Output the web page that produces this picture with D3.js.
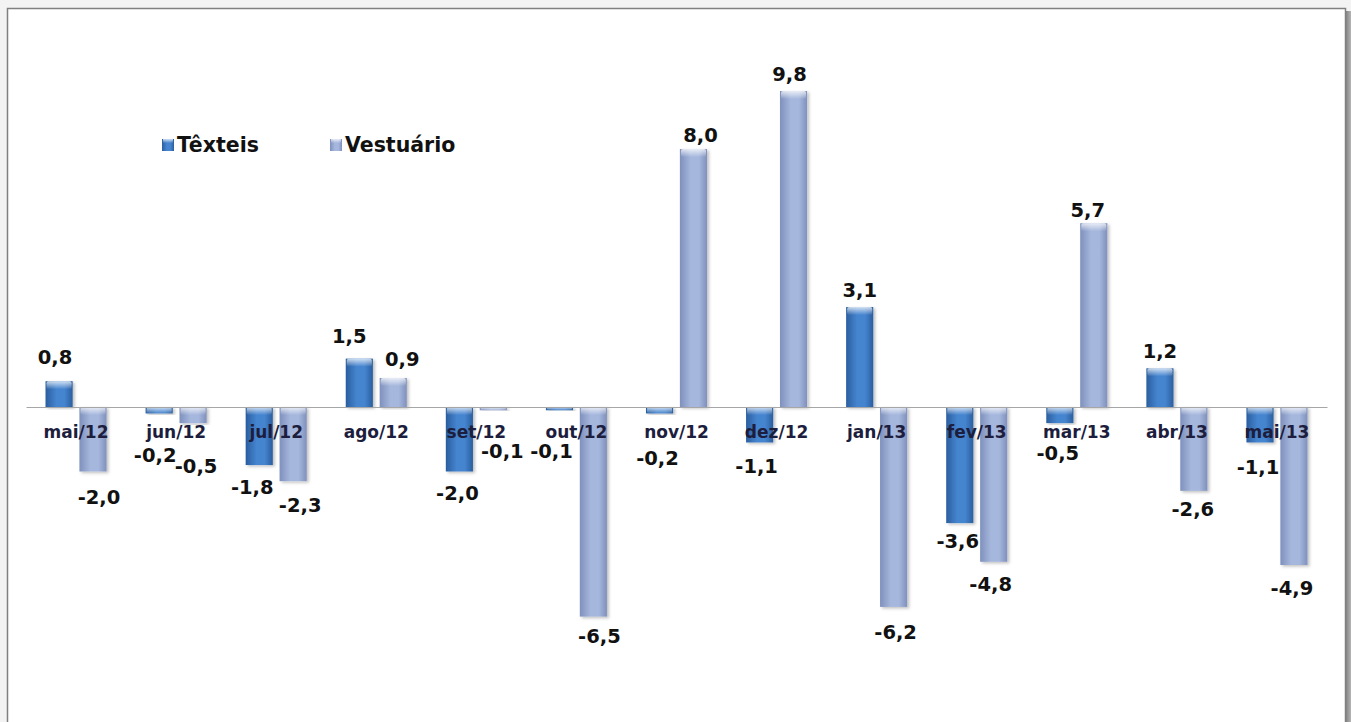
<!DOCTYPE html>
<html>
<head>
<meta charset="utf-8">
<script src="https://cdn.jsdelivr.net/npm/d3@7"></script>
<style>
  body { margin: 0; background: #f3f3f3; }
  svg { display: block; }
</style>
</head>
<body>
<div id="grafico"></div>
<script>
// dados
const meses = ["mai/12", "jun/12", "jul/12", "ago/12", "set/12", "out/12", "nov/12",
  "dez/12", "jan/13", "fev/13", "mar/13", "abr/13", "mai/13"];
const series = ["Têxteis", "Vestuário"];
const texteis = [0.8, -0.2, -1.8, 1.5, -2.0, -0.1, -0.2, -1.1, 3.1, -3.6, -0.5, 1.2, -1.1];
const vestuario = [-2.0, -0.5, -2.3, 0.9, -0.1, -6.5, 8.0, 9.8, -6.2, -4.8, 5.7, -2.6, -4.9];

// ajustes manuais dos rotulos (como no original), [dx, dy]
const ajusteRotulos = {
  "mai/12|Têxteis": [-4, -7], "mai/12|Vestuário": [6, 4],
  "jun/12|Têxteis": [-4, 20], "jun/12|Vestuário": [3, 21],
  "jul/12|Têxteis": [-7, 0], "jul/12|Vestuário": [7, 2],
  "ago/12|Têxteis": [-10, -5], "ago/12|Vestuário": [9, -2],
  "set/12|Têxteis": [-2, 0], "set/12|Vestuário": [9, 19],
  "out/12|Têxteis": [-8, 19], "out/12|Vestuário": [6, -2],
  "nov/12|Têxteis": [-2, 23], "nov/12|Vestuário": [7, 3],
  "dez/12|Têxteis": [-3, 2], "dez/12|Vestuário": [-4, 0],
  "jan/13|Vestuário": [2, 3],
  "fev/13|Têxteis": [-2, -4], "fev/13|Vestuário": [-3, 0],
  "mar/13|Têxteis": [-2, 8], "mar/13|Vestuário": [-6, 4],
  "abr/13|Vestuário": [-1, -4],
  "mai/13|Têxteis": [-2, 3], "mai/13|Vestuário": [-2, 1]
};

const W = 1351, H = 722;
const zeroY = 407, pxPorUnidade = 316 / 9.8;
const yDom = [-9, 12];

const fmt = d3.formatLocale({ decimal: ",", thousands: ".", grouping: [3], currency: ["R$", ""], minus: "-" }).format(".1f");

const dados = meses.map((m, i) => ({ mes: m, valores: [texteis[i], vestuario[i]] }));

const svg = d3.select("#grafico").append("svg")
  .attr("width", W).attr("height", H);

const defs = svg.append("defs");

function gradHoriz(id, escuro, claro) {
  const g = defs.append("linearGradient").attr("id", id)
    .attr("x1", "0%").attr("x2", "100%").attr("y1", "0%").attr("y2", "0%");
  g.append("stop").attr("offset", "0%").attr("stop-color", escuro);
  g.append("stop").attr("offset", "40%").attr("stop-color", claro);
  g.append("stop").attr("offset", "70%").attr("stop-color", claro);
  g.append("stop").attr("offset", "100%").attr("stop-color", escuro);
}
gradHoriz("gTex", "#2a5e9f", "#4584cf");
gradHoriz("gVes", "#7e90bc", "#a6b7dd");

const brilho = defs.append("linearGradient").attr("id", "gBrilho")
  .attr("x1", "0%").attr("x2", "0%").attr("y1", "0%").attr("y2", "100%");
brilho.append("stop").attr("offset", "0%").attr("stop-color", "#ffffff").attr("stop-opacity", 0.75);
brilho.append("stop").attr("offset", "100%").attr("stop-color", "#ffffff").attr("stop-opacity", 0);

const sombra = defs.append("filter").attr("id", "sombra")
  .attr("x", "-30%").attr("y", "-10%").attr("width", "160%").attr("height", "120%");
sombra.append("feDropShadow").attr("dx", 2).attr("dy", 1.5)
  .attr("stdDeviation", 1.5).attr("flood-color", "#000").attr("flood-opacity", 0.25);

const sombraMoldura = defs.append("linearGradient").attr("id", "gMoldura")
  .attr("x1", "0%").attr("x2", "100%");
sombraMoldura.append("stop").attr("offset", "0%").attr("stop-color", "#7a7a7a");
sombraMoldura.append("stop").attr("offset", "100%").attr("stop-color", "#b5b5b5");

// moldura
svg.append("rect").attr("x", 0).attr("y", 0).attr("width", W).attr("height", H).attr("fill", "#f3f3f3");
svg.append("rect").attr("x", 1345).attr("y", 11).attr("width", 6).attr("height", H - 11)
  .attr("fill", "url(#gMoldura)");
svg.append("rect").attr("x", 7.5).attr("y", 8.5).attr("width", 1338).attr("height", H)
  .attr("fill", "#fff").attr("stroke", "#808080").attr("stroke-width", 1.5);

// escalas
const x = d3.scaleBand().domain(meses).range([26, 1327]);
const x1 = d3.scaleBand().domain(series)
  .range([x.bandwidth() * 0.195, x.bandwidth() * 0.805]).paddingInner(0.2);
const y = d3.scaleLinear().domain(yDom)
  .range([zeroY - yDom[0] * pxPorUnidade, zeroY - yDom[1] * pxPorUnidade]);

const cores = { "Têxteis": "url(#gTex)", "Vestuário": "url(#gVes)" };

const grupos = svg.append("g").selectAll("g")
  .data(dados).join("g")
  .attr("transform", d => `translate(${x(d.mes)},0)`);

const barras = grupos.selectAll("g.barra")
  .data(d => series.map((s, j) => ({ mes: d.mes, serie: s, valor: d.valores[j] })))
  .join("g").attr("class", "barra");

barras.append("rect")
  .attr("x", d => x1(d.serie))
  .attr("y", d => y(Math.max(0, d.valor)))
  .attr("width", x1.bandwidth())
  .attr("height", d => Math.abs(y(d.valor) - y(0)))
  .attr("fill", d => cores[d.serie])
  .attr("filter", "url(#sombra)");

barras.append("rect")
  .attr("x", d => x1(d.serie) + 1)
  .attr("y", d => y(Math.max(0, d.valor)))
  .attr("width", x1.bandwidth() - 2)
  .attr("height", d => Math.min(8, Math.abs(y(d.valor) - y(0))))
  .attr("rx", 2)
  .attr("fill", "url(#gBrilho)");

// eixo x
const eixo = svg.append("g").attr("transform", `translate(0,${y(0)})`)
  .call(d3.axisBottom(x).tickSize(0).tickPadding(0));
eixo.select(".domain").attr("stroke", "#a6a6a6").attr("stroke-width", 1);
eixo.selectAll(".tick text")
  .attr("y", 25).attr("dy", "0.35em")
  .attr("font-family", "DejaVu Sans").attr("font-weight", "bold")
  .attr("font-size", 17).attr("fill", "#1d1d3d");

// rotulos dos valores
barras.append("text")
  .attr("x", d => x1(d.serie) + x1.bandwidth() / 2 + (ajusteRotulos[d.mes + "|" + d.serie] || [0, 0])[0])
  .attr("y", d => {
    const aj = (ajusteRotulos[d.mes + "|" + d.serie] || [0, 0])[1];
    return (d.valor >= 0 ? y(d.valor) - 17 : y(d.valor) + 22) + aj;
  })
  .attr("dy", "0.35em")
  .attr("text-anchor", "middle")
  .attr("font-family", "DejaVu Sans").attr("font-weight", "bold")
  .attr("font-size", 19.5).attr("fill", "#111")
  .text(d => fmt(d.valor));

// legenda
const legenda = svg.append("g").selectAll("g")
  .data(series).join("g")
  .attr("transform", (d, i) => `translate(${162 + i * 168},139)`);
legenda.append("rect").attr("width", 12).attr("height", 12)
  .attr("fill", d => cores[d]);
legenda.append("rect").attr("x", 1).attr("width", 10).attr("height", 4)
  .attr("fill", "url(#gBrilho)");
legenda.append("text")
  .attr("x", 15).attr("y", 6).attr("dy", "0.35em")
  .attr("font-family", "DejaVu Sans").attr("font-weight", "bold")
  .attr("font-size", 20.5).attr("fill", "#111")
  .text(d => d);
</script>
</body>
</html>
